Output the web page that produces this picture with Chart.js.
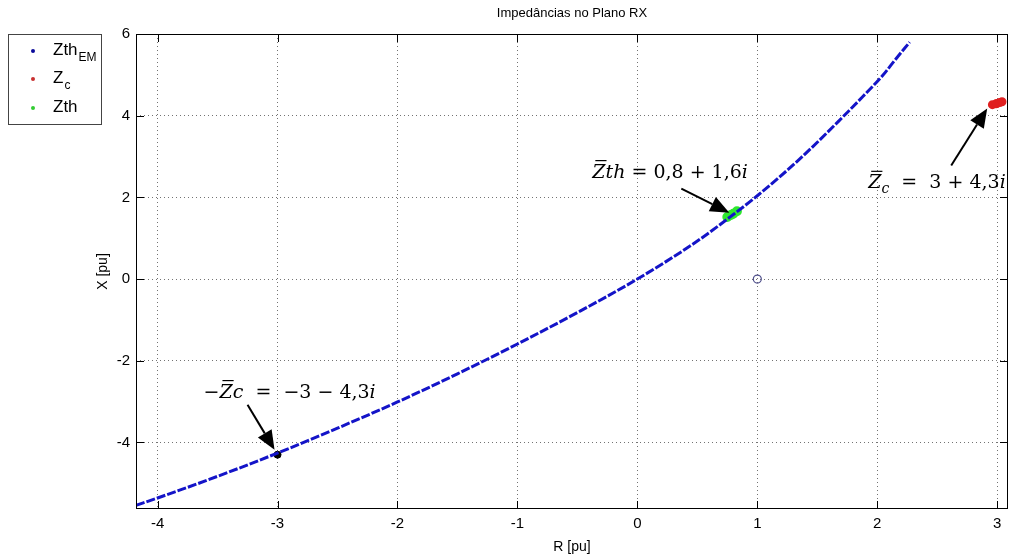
<!DOCTYPE html>
<html>
<head>
<meta charset="utf-8">
<title>Impedâncias no Plano RX</title>
<script src="https://cdn.jsdelivr.net/npm/chart.js@4.4.1/dist/chart.umd.min.js"></script>
<style>
html, body { margin: 0; padding: 0; background: #fff; }
#wrap { position: relative; width: 1010px; height: 556px; }
</style>
</head>
<body>
<div id="wrap"><canvas id="graph" width="1010" height="556"></canvas></div>
<script>
// limites dos eixos (pu)
var xMin = -4.18, xMax = 3.09;
var yMin = -5.63, yMax = 6;

// trajetoria Zth_EM no plano RX (R, X)
var zthEM = [
    [-4.18, -5.54], [-4.0, -5.36], [-3.5, -4.83], [-3.0, -4.26], [-2.5, -3.65],
    [-2.0, -3.01], [-1.5, -2.32], [-1.0, -1.59], [-0.5, -0.82], [0, 0],
    [0.5, 0.93], [0.8, 1.58], [1.0, 2.04], [1.35, 2.93], [1.71, 3.96],
    [1.88, 4.47], [2.05, 5.0], [2.15, 5.37], [2.27, 5.8]
];
// carga Zc
var zc = [[2.96, 4.27], [2.99, 4.29], [3.0, 4.3], [3.02, 4.32], [3.04, 4.34]];
// Zth calculado
var zth = [[0.75, 1.52], [0.78, 1.57], [0.8, 1.6], [0.83, 1.66]];
// -Zc
var menosZc = [[-3, -4.3]];
// circulo em (1, 0)
var pontoUm = [[1, 0]];

var toXY = function(arr) { return arr.map(function(p) { return { x: p[0], y: p[1] }; }); };

// textos das setas: runs com italico / barra / subscrito
var anotacoes = [
    {
        alvo: zth[2], ponta: [-4, -1], cauda: [-52, -25], texto: [-141, -36],
        runs: [
            { t: 'Z', it: true, bar: true }, { t: 'th', it: true }, { t: ' = ' },
            { t: '0,8 + 1,6' }, { t: 'i', it: true }
        ]
    },
    {
        alvo: zc[2], ponta: [-10, 5], cauda: [-46, 62], texto: [-129, 85],
        runs: [
            { t: 'Z', it: true, bar: true }, { t: 'c', it: true, sub: true }, { t: '  =  ' },
            { t: '3 + 4,3' }, { t: 'i', it: true }
        ]
    },
    {
        alvo: menosZc[0], ponta: [-3, -5], cauda: [-30, -50], texto: [-74, -57],
        runs: [
            { t: '\u2212' }, { t: 'Z', it: true, bar: true }, { t: 'c', it: true }, { t: '  =  ' },
            { t: '\u22123 \u2212 4,3' }, { t: 'i', it: true }
        ]
    }
];

var drawMath = function(ctx, x, y, runs, size) {
    runs.forEach(function(r) {
        var fs = r.sub ? Math.round(size * 0.72) : size;
        ctx.font = (r.it ? 'italic ' : '') + fs + 'px "DejaVu Serif", "Liberation Serif", serif';
        var dy = r.sub ? size * 0.22 : 0;
        ctx.fillText(r.t, x, y + dy);
        var w = ctx.measureText(r.t).width;
        if (r.bar) {
            ctx.beginPath();
            ctx.lineWidth = 1.2;
            ctx.moveTo(x + 3, y - size * 0.9);
            ctx.lineTo(x + w + 1, y - size * 0.9);
            ctx.stroke();
        }
        x += w;
    });
};

var drawArrow = function(ctx, x1, y1, x2, y2) {
    var ang = Math.atan2(y2 - y1, x2 - x1);
    var len = 19, half = 8;
    var bx = x2 - len * Math.cos(ang), by = y2 - len * Math.sin(ang);
    ctx.beginPath();
    ctx.lineWidth = 2;
    ctx.moveTo(x1, y1);
    ctx.lineTo(bx, by);
    ctx.stroke();
    ctx.beginPath();
    ctx.moveTo(x2, y2);
    ctx.lineTo(bx + half * Math.sin(ang), by - half * Math.cos(ang));
    ctx.lineTo(bx - half * Math.sin(ang), by + half * Math.cos(ang));
    ctx.closePath();
    ctx.fill();
};

// caixa, ticks internos, titulo, legenda e setas
var estiloMatlab = {
    id: 'estiloMatlab',
    afterDraw: function(chart) {
        var ctx = chart.ctx, a = chart.chartArea;
        var sx = chart.scales.x, sy = chart.scales.y;
        ctx.save();
        ctx.strokeStyle = '#000';
        ctx.lineWidth = 1;
        ctx.strokeRect(Math.round(a.left) + 0.5, Math.round(a.top) + 0.5,
            Math.round(a.right - a.left) - 1, Math.round(a.bottom - a.top) - 1);
        ctx.beginPath();
        sx.ticks.forEach(function(t) {
            var px = Math.round(sx.getPixelForValue(t.value)) + 0.5;
            ctx.moveTo(px, a.bottom); ctx.lineTo(px, a.bottom - 8);
            ctx.moveTo(px, a.top); ctx.lineTo(px, a.top + 8);
        });
        sy.ticks.forEach(function(t) {
            var py = Math.round(sy.getPixelForValue(t.value)) + 0.5;
            ctx.moveTo(a.left, py); ctx.lineTo(a.left + 8, py);
            ctx.moveTo(a.right, py); ctx.lineTo(a.right - 8, py);
        });
        ctx.stroke();

        // titulo
        ctx.fillStyle = '#000';
        ctx.font = '13px "Liberation Sans", Arial, sans-serif';
        ctx.textAlign = 'center';
        ctx.textBaseline = 'middle';
        ctx.fillText('Impedâncias no Plano RX', (a.left + a.right) / 2, 13);

        // legenda
        ctx.strokeStyle = '#444';
        ctx.strokeRect(8.5, 34.5, 93, 90);
        ctx.textAlign = 'left';
        ctx.textBaseline = 'alphabetic';
        var itens = [
            { ds: 0, y: 55, t: 'Zth', sub: 'EM' },
            { ds: 2, y: 83, t: 'Z', sub: 'c' },
            { ds: 1, y: 112, t: 'Zth', sub: '' }
        ];
        itens.forEach(function(it) {
            var cor = chart.data.datasets[it.ds].legendColor;
            ctx.fillStyle = cor;
            ctx.beginPath();
            ctx.arc(33, it.y - 4, 2, 0, Math.PI * 2);
            ctx.fill();
            ctx.fillStyle = '#000';
            ctx.font = '17px "Liberation Sans", Arial, sans-serif';
            ctx.fillText(it.t, 53, it.y);
            var w = ctx.measureText(it.t).width;
            if (it.sub) {
                ctx.font = '12px "Liberation Sans", Arial, sans-serif';
                ctx.fillText(it.sub, 53 + w + 1, it.y + 6);
            }
        });

        // setas e textos
        ctx.fillStyle = '#000';
        ctx.strokeStyle = '#000';
        anotacoes.forEach(function(an) {
            var px = sx.getPixelForValue(an.alvo[0]);
            var py = sy.getPixelForValue(an.alvo[1]);
            drawArrow(ctx, px + an.cauda[0], py + an.cauda[1], px + an.ponta[0], py + an.ponta[1]);
            drawMath(ctx, px + an.texto[0], py + an.texto[1], an.runs, 19);
        });
        ctx.restore();
    }
};

var fonteEixo = { family: '"Liberation Sans", Arial, sans-serif', size: 15 };

var config = {
    type: 'scatter',
    data: {
        datasets: [{
            label: 'Zth_EM',
            data: toXY(zthEM),
            showLine: true,
            cubicInterpolationMode: 'monotone',
            borderColor: '#1414c8',
            legendColor: '#0a0a9a',
            borderWidth: 3,
            borderDash: [9, 2],
            pointRadius: 0
        }, {
            label: 'Zth',
            data: toXY(zth),
            showLine: true,
            borderColor: '#2ee82e',
            backgroundColor: '#2ee82e',
            legendColor: '#33cc33',
            borderWidth: 5,
            pointRadius: 2.5
        }, {
            label: 'Zc',
            data: toXY(zc),
            showLine: true,
            borderColor: '#e02020',
            backgroundColor: '#e02020',
            legendColor: '#c83030',
            borderWidth: 4,
            pointRadius: 2.5
        }, {
            label: '-Zc',
            data: toXY(menosZc),
            backgroundColor: '#000',
            borderColor: '#000',
            pointRadius: 3.5
        }, {
            label: 'ponto',
            data: toXY(pontoUm),
            backgroundColor: 'rgba(0,0,0,0)',
            borderColor: '#50508c',
            borderWidth: 1.2,
            pointRadius: 4
        }]
    },
    options: {
        responsive: false,
        animation: false,
        devicePixelRatio: 1,
        layout: { autoPadding: false, padding: { top: 34, left: 90, right: 2, bottom: 0 } },
        plugins: { legend: { display: false }, tooltip: { enabled: false } },
        scales: {
            x: {
                type: 'linear',
                min: xMin, max: xMax,
                afterFit: function(s) { s.height = 47; s.paddingLeft = 0; s.paddingRight = 0; },
                ticks: {
                    stepSize: 1, includeBounds: false, padding: 6,
                    color: '#000', font: fonteEixo,
                    callback: function(v) { return String(v); }
                },
                grid: { color: 'rgba(90,90,90,0.85)', drawTicks: false },
                border: { display: false, dash: [1, 3] },
                title: { display: true, text: 'R [pu]', color: '#000', padding: 0,
                    font: { family: '"Liberation Sans", Arial, sans-serif', size: 14 } }
            },
            y: {
                type: 'linear',
                min: yMin, max: yMax,
                afterFit: function(s) { s.width = 46; s.paddingTop = 0; s.paddingBottom = 0; },
                ticks: {
                    stepSize: 2, includeBounds: false, padding: 6,
                    color: '#000', font: fonteEixo,
                    callback: function(v) { return String(v); }
                },
                grid: { color: 'rgba(90,90,90,0.85)', drawTicks: false },
                border: { display: false, dash: [1, 3] },
                title: { display: true, text: 'X [pu]', color: '#000', padding: 5,
                    font: { family: '"Liberation Sans", Arial, sans-serif', size: 14 } }
            }
        }
    },
    plugins: [estiloMatlab]
};

window.onload = function() {
    var ctx = document.getElementById('graph').getContext('2d');
    window.myChart = new Chart(ctx, config);
};
</script>
</body>
</html>
